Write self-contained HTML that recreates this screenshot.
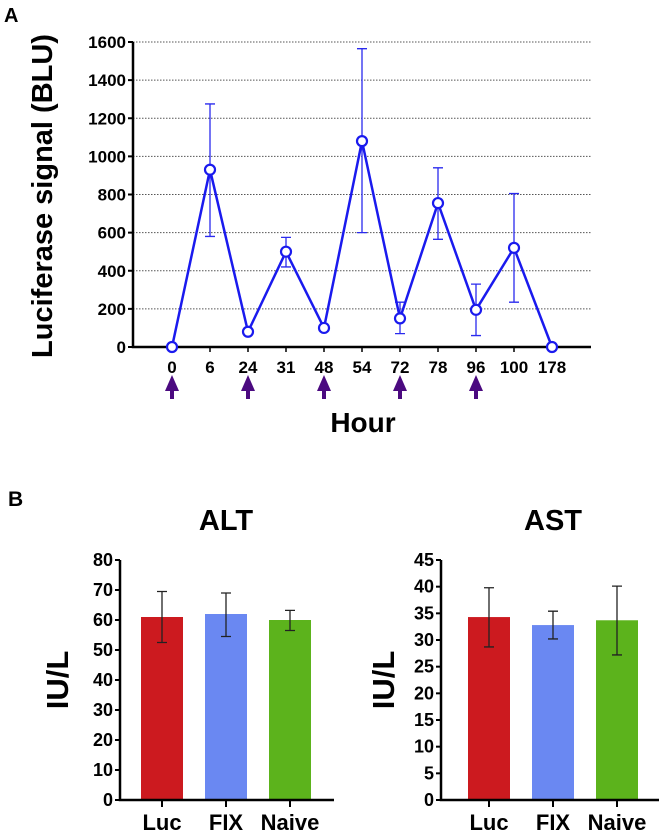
<!DOCTYPE html>
<html><head><meta charset="utf-8"><style>
body{margin:0;background:#fff}
svg{display:block;font-family:"Liberation Sans",Arial,sans-serif;font-weight:bold}
</style></head><body>
<svg id="s" width="660" height="833" viewBox="0 0 660 833">
<text x="4" y="22" font-size="20">A</text>
<text x="8" y="506" font-size="21">B</text>
<g id="ga"></g>
<g id="gb"></g>
<g id="gc"></g>
</svg>
<script>
const hours=["0","6","24","31","48","54","72","78","96","100","178"];
const lucMean=[0,930,80,500,100,1080,150,755,195,520,0];
const lucHi=[0,1275,80,575,100,1565,235,940,330,805,0];
const lucLo=[0,580,80,420,100,600,70,565,60,235,0];
const doseHours=["0","24","48","72","96"];
const yTicksA=[0,200,400,600,800,1000,1200,1400,1600];
const groups=["Luc","FIX","Naive"];
const altMean=[61,62,60];
const altHi=[69.5,69,63.2];
const altLo=[52.5,54.5,56.5];
const altTicks=[0,10,20,30,40,50,60,70,80];
const astMean=[34.3,32.8,33.7];
const astHi=[39.8,35.4,40.1];
const astLo=[28.7,30.2,27.2];
const astTicks=[0,5,10,15,20,25,30,35,40,45];
const NS="http://www.w3.org/2000/svg";
function mk(p,t,a,txt){const e=document.createElementNS(NS,t);for(const k in a)e.setAttribute(k,a[k]);if(txt!==undefined)e.textContent=txt;p.appendChild(e);return e;}
// Chart A
(function(){
const g=document.getElementById('ga');
const x0=133,x1=591,yb=347,yt=42;
const xs=i=>172+i*38;
const ys=v=>yb-(v/1600)*(yb-yt);
yTicksA.forEach(v=>{
 if(v>0){const l=mk(g,'line',{x1:x0,x2:x1,y1:ys(v),y2:ys(v),stroke:'#555','stroke-width':1,'stroke-dasharray':'1.5,1.5'});}
 const tk=mk(g,'line',{x1:x0-5,x2:x0,y1:ys(v),y2:ys(v),stroke:'#000','stroke-width':2});
 const t=mk(g,'text',{x:x0-7,y:ys(v)+6,'font-size':17,'text-anchor':'end'},v);
});
const ax=mk(g,'path',{d:`M${x0} ${yt}V${yb}H${x1}`,fill:'none',stroke:'#000','stroke-width':2.5});
hours.forEach((h,i)=>{
 const tk=mk(g,'line',{x1:xs(i),x2:xs(i),y1:yb,y2:yb+5,stroke:'#000','stroke-width':1.5});
 const t=mk(g,'text',{x:xs(i),y:373,'font-size':17,'text-anchor':'middle'},h);
 if(doseHours.includes(h)){const a=mk(g,'path',{d:`M${xs(i)} 375L${xs(i)+7} 391H${xs(i)+2}V399H${xs(i)-2}V391H${xs(i)-7}Z`,fill:'#4b0a80'});}
 if(lucHi[i]!==lucLo[i]){
  const e=mk(g,'path',{d:`M${xs(i)} ${ys(lucLo[i])}V${ys(lucHi[i])}M${xs(i)-5} ${ys(lucHi[i])}h10M${xs(i)-5} ${ys(lucLo[i])}h10`,stroke:'#2a2aee','stroke-width':1.3,fill:'none'});}
});
const ln=mk(g,'polyline',{points:lucMean.map((v,i)=>xs(i)+','+ys(v)).join(' '),fill:'none',stroke:'#1a1aee','stroke-width':2.5});
lucMean.forEach((v,i)=>{const c=mk(g,'circle',{cx:xs(i),cy:ys(v),r:5,fill:'#fff',stroke:'#1a1aee','stroke-width':2.2});});
const yl=mk(g,'text',{x:0,y:0,'font-size':29,'text-anchor':'middle',transform:'translate(52,196) rotate(-90)'},'Luciferase signal (BLU)');
const xl=mk(g,'text',{x:363,y:432,'font-size':28,'text-anchor':'middle'},'Hour');
})();
// Bar charts
function bars(id,title,mean,hi,lo,ticks,ax0,ax1,barX,titleX,ylabX){
 const g=document.getElementById(id);
 const yb=800,yt=560,max=ticks[ticks.length-1];
 const ys=v=>yb-(v/max)*(yb-yt);
 const cols=['#cc1a1f','#6a88f2','#5cb31c'];
 const tt=mk(g,'text',{x:titleX,y:530,'font-size':29,'text-anchor':'middle'},title);
 const yl=mk(g,'text',{x:0,y:0,'font-size':31,'text-anchor':'middle',transform:`translate(${ylabX},680) rotate(-90)`},'IU/L');
 ticks.forEach(v=>{
  const tk=mk(g,'line',{x1:ax0-5,x2:ax0,y1:ys(v),y2:ys(v),stroke:'#000','stroke-width':2});
  const t=mk(g,'text',{x:ax0-7,y:ys(v)+6,'font-size':18,'text-anchor':'end'},v);
 });
 groups.forEach((gname,i)=>{
  const bx=barX+i*64,w=42,cx=bx+w/2;
  const r=mk(g,'rect',{x:bx,y:ys(mean[i]),width:w,height:yb-ys(mean[i]),fill:cols[i]});
  const e=mk(g,'path',{d:`M${cx} ${ys(lo[i])}V${ys(hi[i])}M${cx-5} ${ys(hi[i])}h10M${cx-5} ${ys(lo[i])}h10`,stroke:'#222','stroke-width':1.3,fill:'none'});
  const tk=mk(g,'line',{x1:cx,x2:cx,y1:yb,y2:yb+7,stroke:'#000','stroke-width':2});
  const t=mk(g,'text',{x:cx,y:830,'font-size':22,'text-anchor':'middle'},gname);
 });
 const ax=mk(g,'path',{d:`M${ax0} ${yt}V${yb}H${ax1}`,fill:'none',stroke:'#000','stroke-width':2.5});
}
bars('gb','ALT',altMean,altHi,altLo,altTicks,120,334,141,226,68);
bars('gc','AST',astMean,astHi,astLo,astTicks,441,659,468,553,394);
</script>
</body></html>
